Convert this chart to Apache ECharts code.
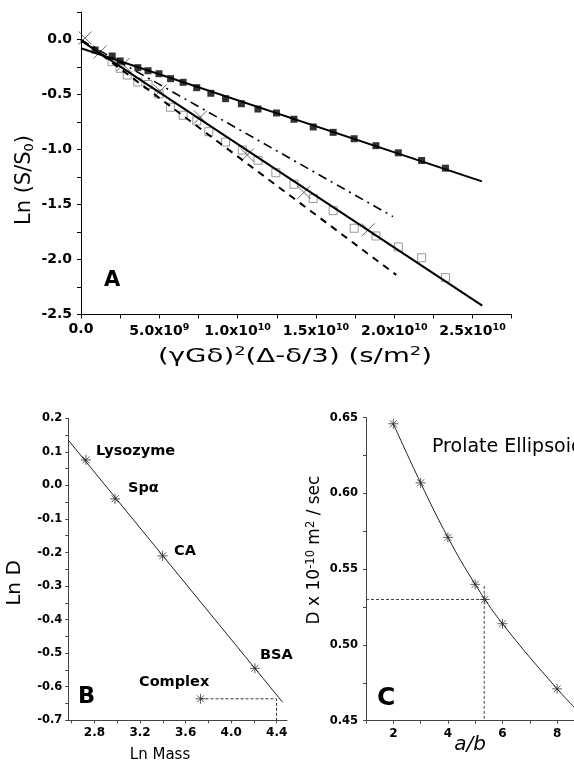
<!DOCTYPE html>
<html>
<head>
<meta charset="utf-8">
<script src="https://cdn.jsdelivr.net/npm/echarts@6/dist/echarts.min.js"></script>
<style>
  html, body { margin: 0; padding: 0; background: #fff; }
  #chart { width: 574px; height: 770px; }
</style>
</head>
<body>
<div id="chart"></div>
<script>
// panel A: x in units of 1e9 s/m^2, y = Ln(S/S0)
const aFilledX = [0.9, 1.99, 2.5, 3.63, 4.28, 4.98, 5.72, 6.52, 7.39, 8.29, 9.23, 10.24, 11.3, 12.48, 13.6, 14.83, 16.1, 17.44, 18.83, 20.26, 21.75, 23.27]
const aFilledY = [-0.095, -0.15, -0.195, -0.256, -0.284, -0.311, -0.356, -0.389, -0.438, -0.489, -0.538, -0.584, -0.632, -0.668, -0.725, -0.795, -0.844, -0.902, -0.965, -1.03, -1.10, -1.17]
const aOpenX = [1.99, 2.5, 2.95, 3.63, 4.28, 4.98, 5.71, 6.52, 7.39, 8.16, 9.23, 10.3, 11.3, 12.44, 13.6, 14.83, 16.1, 17.44, 18.83, 20.26, 21.75, 23.27]
const aOpenY = [-0.202, -0.262, -0.323, -0.386, -0.409, -0.495, -0.616, -0.689, -0.74, -0.838, -0.932, -1.005, -1.098, -1.211, -1.316, -1.445, -1.556, -1.716, -1.786, -1.886, -1.984, -2.165]
const aCrossX = [0.26, 1.22, 2.69, 5.06, 7.63, 10.62, 14.23, 18.33]
const aCrossY = [0.014, -0.114, -0.227, -0.468, -0.705, -1.05, -1.39, -1.73]
// fitted / model lines (end points)
const aFitFilled = [[0, -0.08], [25.6, -1.29]]
const aFitOpen = [[0, -0.01], [25.62, -2.42]]
const aDashed = [[0, 0.0], [20.13, -2.14]]
const aDashDot = [[0, -0.005], [19.92, -1.61]]

// panel B: Ln Mass vs Ln D
const bNames = ['Lysozyme', 'Spα', 'CA', 'BSA', 'Complex']
const bMass = [2.725, 2.98, 3.398, 4.208, 3.731]
const bLnD = [0.076, -0.04, -0.21, -0.545, -0.636]
const bFit = [[2.57, 0.135], [4.451, -0.646]]
const bGuide = [[3.731, -0.636], [4.398, -0.636], [4.398, -0.7]]

// panel C: a/b vs D
const cRatio = [2, 3, 4, 5, 5.35, 6, 8]
const cD = [0.646, 0.607, 0.571, 0.540, 0.530, 0.514, 0.471]
const cCurveX = [2, 3, 4, 5, 6, 8, 9]
const cCurveY = [0.646, 0.607, 0.571, 0.540, 0.514, 0.471, 0.452]
const cGuideH = [[1, 0.53], [5.42, 0.53]]
const cGuideV = [[5.33, 0.539], [5.33, 0.45]]

const FONT = 'DejaVu Sans, sans-serif'
const zip = (xs, ys) => xs.map((x, i) => [x, ys[i]])
const near = (v, step) => Math.abs(v / step - Math.round(v / step)) < 1e-6
const fmt1 = v => (Math.abs(v) < 1e-9 ? '0.0' : v.toFixed(1))

const CROSS = 'path://M0,0L10,10M10,0L0,10'
const STAR = 'path://M0,5L10,5M5,0L5,10M1.5,1.5L8.5,8.5M8.5,1.5L1.5,8.5'

const chart = echarts.init(document.getElementById('chart'), null, { renderer: 'canvas' })

function axisBase (color, tickLen) {
  return {
    axisLine: { show: true, onZero: false, lineStyle: { color: color, width: 1 } },
    axisTick: { show: true, inside: false, length: tickLen, lineStyle: { color: color, width: 1 } },
    splitLine: { show: false }
  }
}
function label (size, extra) {
  return Object.assign({ color: '#000', fontFamily: FONT, fontWeight: 'bold', fontSize: size, margin: 7 }, extra)
}

const sup = { fontSize: 9.5, fontWeight: 'bold', fontFamily: FONT, verticalAlign: 'top', lineHeight: 17, color: '#000' }

chart.setOption({
  animation: false,
  backgroundColor: '#fff',
  grid: [
    { left: 81, top: 12, width: 430.7, height: 302.5, outerBoundsMode: 'none' },
    { left: 68.3, top: 418.3, width: 218.7, height: 302, outerBoundsMode: 'none' },
    { left: 366, top: 417.7, width: 218.4, height: 303, outerBoundsMode: 'none' }
  ],
  xAxis: [
    Object.assign(axisBase('#000', 4), {
      gridIndex: 0, type: 'value', min: 0, max: 27.5, interval: 2.5,
      axisLabel: label(14, {
        margin: 8,
        formatter: function (v) {
          if (!near(v, 5)) return ''
          if (v === 0) return '0.0'
          if (v < 10) return v.toFixed(1) + 'x10{s|9}'
          return (v / 10).toFixed(1) + 'x10{s|10}'
        },
        rich: { s: sup }
      })
    }),
    Object.assign(axisBase('#444', 3), {
      gridIndex: 1, type: 'value', min: 2.57, max: 4.49,
      axisTick: { show: true, length: 3, lineStyle: { color: '#444' }, customValues: [2.6, 2.8, 3.0, 3.2, 3.4, 3.6, 3.8, 4.0, 4.2, 4.4] },
      axisLabel: label(12, { customValues: [2.8, 3.2, 3.6, 4.0, 4.4], formatter: v => v.toFixed(1) })
    }),
    Object.assign(axisBase('#444', 3), {
      gridIndex: 2, type: 'value', min: 1, max: 9, interval: 1,
      axisLabel: label(12, { formatter: v => (near(v, 2) ? String(v) : '') })
    })
  ],
  yAxis: [
    Object.assign(axisBase('#000', 4), {
      gridIndex: 0, type: 'value', min: -2.5, max: 0.25, interval: 0.25,
      axisLabel: label(14, { margin: 9, formatter: v => (near(v, 0.5) ? fmt1(v) : '') })
    }),
    Object.assign(axisBase('#444', 3), {
      gridIndex: 1, type: 'value', min: -0.7, max: 0.2, interval: 0.05,
      axisLabel: label(11.5, { margin: 6, formatter: v => (near(v, 0.1) ? fmt1(v) : '') })
    }),
    Object.assign(axisBase('#444', 3), {
      gridIndex: 2, type: 'value', min: 0.45, max: 0.65, interval: 0.025,
      axisLabel: label(11.5, { margin: 8, formatter: v => (near(v, 0.05) ? v.toFixed(2) : '') })
    })
  ],
  series: [
    // panel A
    { type: 'line', xAxisIndex: 0, yAxisIndex: 0, data: aFitFilled, symbol: 'none', lineStyle: { color: '#000', width: 2 } },
    { type: 'line', xAxisIndex: 0, yAxisIndex: 0, data: aFitOpen, symbol: 'none', lineStyle: { color: '#000', width: 2 } },
    { type: 'line', xAxisIndex: 0, yAxisIndex: 0, data: aDashed, symbol: 'none', lineStyle: { color: '#000', width: 2, type: [7, 6] } },
    { type: 'line', xAxisIndex: 0, yAxisIndex: 0, data: aDashDot, symbol: 'none', lineStyle: { color: '#000', width: 1.6, type: [9, 5, 2, 5] } },
    { type: 'scatter', xAxisIndex: 0, yAxisIndex: 0, data: zip(aOpenX, aOpenY), symbol: 'rect', symbolSize: 8,
      itemStyle: { color: 'rgba(255,255,255,0)', borderColor: '#808080', borderWidth: 1 } },
    { type: 'scatter', xAxisIndex: 0, yAxisIndex: 0, data: zip(aCrossX, aCrossY), symbol: CROSS, symbolSize: 13,
      itemStyle: { color: 'none', borderColor: '#444', borderWidth: 1 } },
    { type: 'scatter', xAxisIndex: 0, yAxisIndex: 0, data: zip(aFilledX, aFilledY), symbol: 'rect', symbolSize: 7,
      itemStyle: { color: '#000' } },
    // panel B
    { type: 'line', xAxisIndex: 1, yAxisIndex: 1, data: bFit, symbol: 'none', lineStyle: { color: '#222', width: 1 } },
    { type: 'line', xAxisIndex: 1, yAxisIndex: 1, data: bGuide, symbol: 'none', lineStyle: { color: '#333', width: 1, type: [3, 2] } },
    { type: 'scatter', xAxisIndex: 1, yAxisIndex: 1, data: zip(bMass, bLnD), symbol: STAR, symbolSize: 10,
      itemStyle: { color: 'none', borderColor: '#333', borderWidth: 1 } },
    // panel C
    { type: 'line', xAxisIndex: 2, yAxisIndex: 2, data: zip(cCurveX, cCurveY), smooth: 0.4, symbol: 'none', lineStyle: { color: '#222', width: 1 } },
    { type: 'line', xAxisIndex: 2, yAxisIndex: 2, data: cGuideH, symbol: 'none', lineStyle: { color: '#444', width: 1, type: [3, 2] } },
    { type: 'line', xAxisIndex: 2, yAxisIndex: 2, data: cGuideV, symbol: 'none', lineStyle: { color: '#444', width: 1, type: [3, 2] } },
    { type: 'scatter', xAxisIndex: 2, yAxisIndex: 2, data: zip(cRatio, cD), symbol: STAR, symbolSize: 10,
      itemStyle: { color: 'none', borderColor: '#333', borderWidth: 1 } }
  ],
  graphic: [
    // panel letters
    { type: 'text', x: 104, y: 281, style: { text: 'A', font: 'bold 21px ' + FONT, fill: '#000', align: 'left', verticalAlign: 'middle' } },
    { type: 'text', x: 78, y: 697, style: { text: 'B', font: 'bold 22.5px ' + FONT, fill: '#000', align: 'left', verticalAlign: 'middle' } },
    { type: 'text', x: 377, y: 698, style: { text: 'C', font: 'bold 25px ' + FONT, fill: '#000', align: 'left', verticalAlign: 'middle' } },
    // axis titles
    { type: 'text', x: 25, y: 180, rotation: Math.PI / 2,
      style: { text: 'Ln (S/S{b|0})', font: '21px ' + FONT, fill: '#000', align: 'center', verticalAlign: 'middle',
        rich: { b: { fontSize: 13, fontFamily: FONT, verticalAlign: 'bottom', lineHeight: 23 } } } },
    { type: 'text', x: 295, y: 357, scaleX: 1.38,
      style: { text: '(γGδ){t|2}(Δ-δ/3) (s/m{t|2})', font: '20px ' + FONT, fill: '#000', align: 'center', verticalAlign: 'middle',
        rich: { t: { fontSize: 13, fontFamily: FONT, verticalAlign: 'top', lineHeight: 23 } } } },
    { type: 'text', x: 15, y: 583, rotation: Math.PI / 2,
      style: { text: 'Ln D', font: '20px ' + FONT, fill: '#000', align: 'center', verticalAlign: 'middle' } },
    { type: 'text', x: 160, y: 755,
      style: { text: 'Ln Mass', font: '15px ' + FONT, fill: '#000', align: 'center', verticalAlign: 'middle' } },
    { type: 'text', x: 315, y: 550, rotation: Math.PI / 2,
      style: { text: 'D x 10{t|-10} m{t|2} / sec', font: '17px ' + FONT, fill: '#000', align: 'center', verticalAlign: 'middle',
        rich: { t: { fontSize: 11.5, fontFamily: FONT, verticalAlign: 'top', lineHeight: 20 } } } },
    { type: 'text', x: 470, y: 745,
      style: { text: 'a/b', font: 'italic 20px ' + FONT, fill: '#000', align: 'center', verticalAlign: 'middle' } },
    // annotations
    { type: 'text', x: 432, y: 447, style: { text: 'Prolate Ellipsoid', font: '19px ' + FONT, fill: '#000', align: 'left', verticalAlign: 'middle' } },
    { type: 'text', x: 96, y: 451, style: { text: bNames[0], font: 'bold 14.5px ' + FONT, fill: '#000', align: 'left', verticalAlign: 'middle' } },
    { type: 'text', x: 128, y: 488, style: { text: bNames[1], font: 'bold 14.5px ' + FONT, fill: '#000', align: 'left', verticalAlign: 'middle' } },
    { type: 'text', x: 174, y: 551, style: { text: bNames[2], font: 'bold 14.5px ' + FONT, fill: '#000', align: 'left', verticalAlign: 'middle' } },
    { type: 'text', x: 260, y: 655, style: { text: bNames[3], font: 'bold 14.5px ' + FONT, fill: '#000', align: 'left', verticalAlign: 'middle' } },
    { type: 'text', x: 139, y: 682, style: { text: bNames[4], font: 'bold 14.5px ' + FONT, fill: '#000', align: 'left', verticalAlign: 'middle' } }
  ]
})
</script>
</body>
</html>
